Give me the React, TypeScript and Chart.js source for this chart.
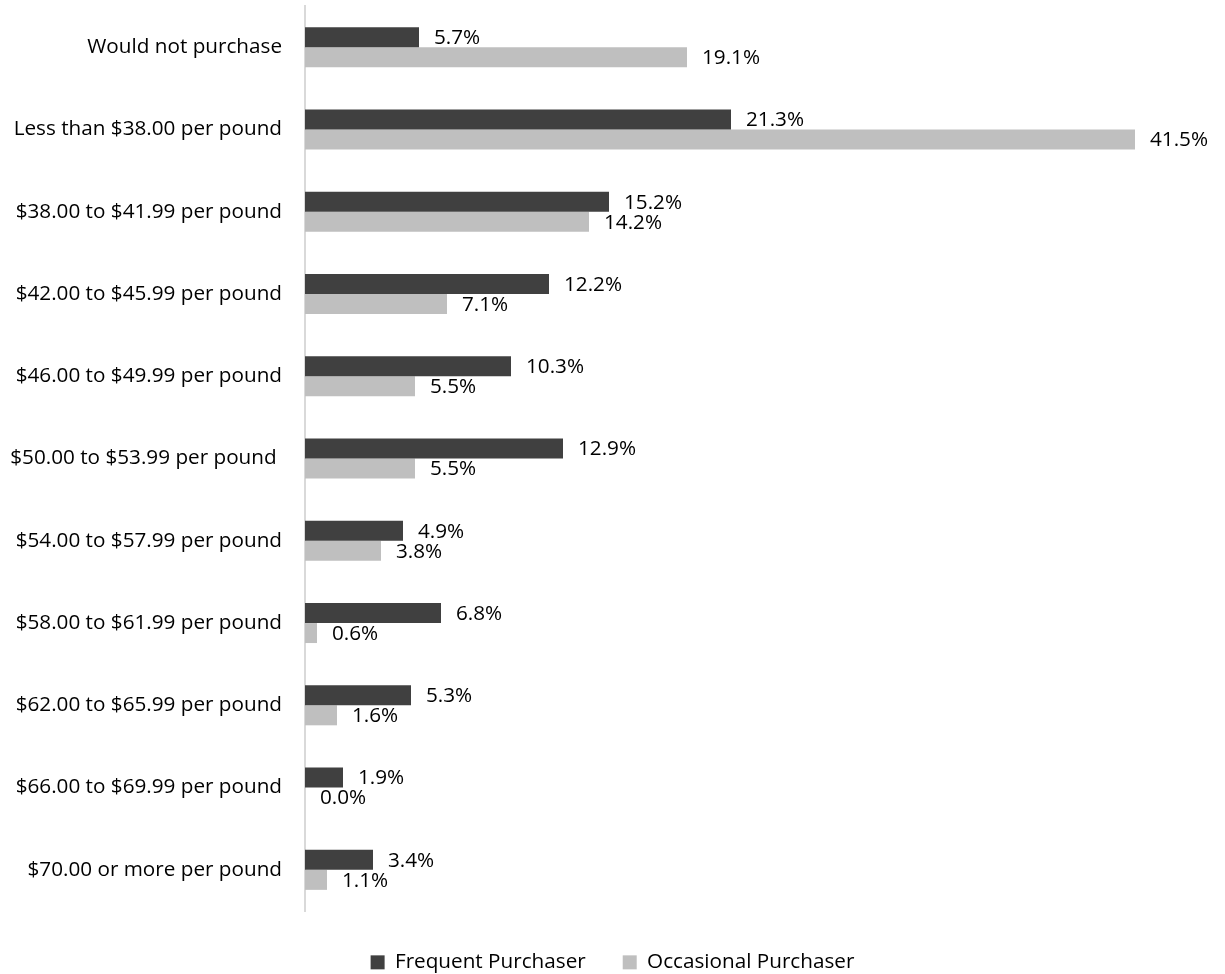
import React, { useEffect, useRef } from "react";
import { Chart, registerables } from "chart.js";

Chart.register(...registerables);

const categories = [
  "Would not purchase",
  "Less than $38.00 per pound",
  "$38.00 to $41.99 per pound",
  "$42.00 to $45.99 per pound",
  "$46.00 to $49.99 per pound",
  "$50.00 to $53.99 per pound ",
  "$54.00 to $57.99 per pound",
  "$58.00 to $61.99 per pound",
  "$62.00 to $65.99 per pound",
  "$66.00 to $69.99 per pound",
  "$70.00 or more per pound",
];

const frequentPurchaser = [5.7, 21.3, 15.2, 12.2, 10.3, 12.9, 4.9, 6.8, 5.3, 1.9, 3.4];
const occasionalPurchaser = [19.1, 41.5, 14.2, 7.1, 5.5, 5.5, 3.8, 0.6, 1.6, 0.0, 1.1];

const seriesNames = ["Frequent Purchaser", "Occasional Purchaser"];

const FONT_FAMILY = "'Open Sans'";
const FONT_SIZE = 20.7;

const dataLabelPlugin = {
  id: "dataLabels",
  afterDatasetsDraw(chart: any) {
    const ctx = chart.ctx;
    ctx.save();
    ctx.font = `${FONT_SIZE}px ${FONT_FAMILY}`;
    ctx.fillStyle = "#000000";
    ctx.textAlign = "left";
    ctx.textBaseline = "middle";
    chart.data.datasets.forEach((ds: any, i: number) => {
      const meta = chart.getDatasetMeta(i);
      meta.data.forEach((bar: any, j: number) => {
        const v = ds.data[j] as number;
        ctx.fillText(`${v.toFixed(1)}%`, bar.x + 15, bar.y + 1);
      });
    });
    ctx.restore();
  },
};

const legendHeightPlugin = {
  id: "legendHeight",
  beforeInit(chart: any) {
    const legend = chart.legend;
    if (!legend) return;
    const origFit = legend.fit;
    legend.fit = function () {
      origFit.call(this);
      this.height = 63;
    };
  },
  afterLayout(chart: any) {
    const legend = chart.legend;
    if (!legend) return;
    legend.top += 4;
    legend.bottom += 4;
  },
};

export default function App() {
  const canvasRef = useRef<HTMLCanvasElement | null>(null);

  useEffect(() => {
    if (!canvasRef.current) return;
    const chart = new Chart(canvasRef.current, {
      type: "bar",
      data: {
        labels: categories,
        datasets: [
          {
            label: seriesNames[0],
            data: frequentPurchaser,
            backgroundColor: "#404040",
            categoryPercentage: 0.486,
            barPercentage: 1.0,
          },
          {
            label: seriesNames[1],
            data: occasionalPurchaser,
            backgroundColor: "#bfbfbf",
            categoryPercentage: 0.486,
            barPercentage: 1.0,
          },
        ],
      },
      options: {
        indexAxis: "y",
        animation: false,
        responsive: false,
        layout: { padding: { top: 6, left: 0, right: 0, bottom: 0 } },
        scales: {
          x: {
            display: false,
            min: 0,
            max: 46,
          },
          y: {
            grid: { display: false, drawTicks: false },
            border: { display: true, color: "#d9d9d9", width: 2 },
            ticks: {
              color: "#000000",
              padding: 23,
              font: { family: FONT_FAMILY, size: FONT_SIZE },
            },
            afterFit: (s: any) => {
              s.width = 305;
              s.paddingTop = 0;
              s.paddingBottom = 0;
            },
          },
        },
        plugins: {
          legend: {
            display: true,
            position: "bottom",
            labels: {
              color: "#000000",
              boxWidth: 14,
              boxHeight: 14,
              padding: 37,
              font: { family: FONT_FAMILY, size: FONT_SIZE },
            },
          },
          tooltip: { enabled: false },
        },
      },
      plugins: [dataLabelPlugin, legendHeightPlugin],
    });
    return () => chart.destroy();
  }, []);

  return (
    <div style={{ position: "absolute", left: 0, top: 0, width: 1225, height: 974 }}>
      <canvas ref={canvasRef} width={1225} height={974} />
    </div>
  );
}
